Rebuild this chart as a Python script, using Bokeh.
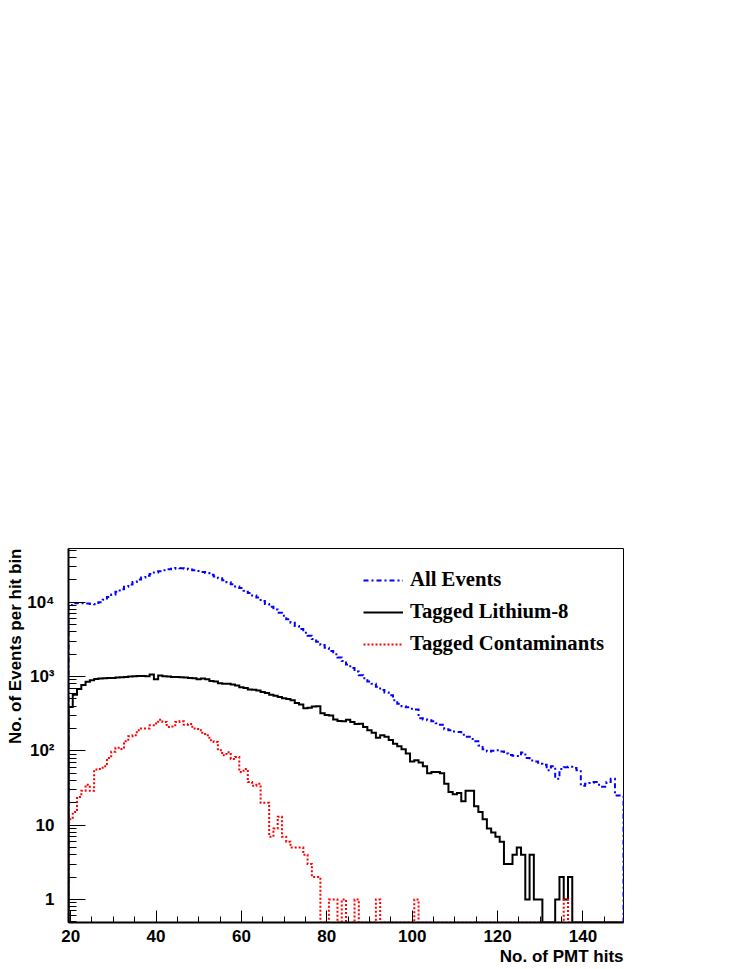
import numpy as np
from bokeh.plotting import figure
from bokeh.models import Range1d, FixedTicker, Legend, LegendItem, Title
from bokeh.embed import file_html
from bokeh.resources import INLINE

# ---------------- data (bin centres 20 .. 149, one hit per bin) ----------------
hits = list(range(20, 150))

all_events = [
    9200, 9700, 9800, 9700, 9600, 9500, 9400, 10000, 10800, 11800,
    12700, 13800, 15000, 16200, 17400, 18800, 20200, 21500, 22800, 24000,
    25200, 26200, 27000, 27800, 28300, 28800, 28700, 28300, 27600, 27000,
    26300, 25600, 24700, 23500, 22300, 21000, 19800, 18600, 17500, 16300,
    15500, 14300, 13300, 12300, 11600, 10400, 9500, 8700, 8000, 7200,
    6600, 5900, 5300, 4800, 4350, 3900, 3550, 3200, 2950, 2650,
    2450, 2200, 2000, 1800, 1620, 1450, 1300, 1170, 1040, 950,
    860, 800, 730, 660, 610, 560, 480, 430, 400, 385,
    370, 360, 275, 265, 258, 250, 235, 225, 195, 190,
    182, 180, 165, 155, 145, 135, 118, 105, 98, 100,
    102, 98, 92, 88, 86, 85, 95, 80, 74, 72,
    67, 65, 55, 62, 42, 57, 60, 61, 59, 55,
    34, 36, 37, 38, 35, 33, 38, 42, 25, 25,
]

lithium8 = [
    390, 570, 680, 770, 850, 890, 930, 940, 950, 960,
    960, 970, 980, 990, 1000, 1010, 1020, 1020, 1010, 1070,
    920, 1030, 1010, 1000, 990, 990, 980, 970, 960, 950,
    920, 940, 920, 870, 860, 810, 800, 800, 780, 760,
    720, 700, 670, 665, 650, 620, 600, 570, 550, 530,
    510, 500, 480, 440, 420, 375, 380, 395, 400, 320,
    305, 300, 265, 252, 250, 262, 245, 230, 232, 210,
    190, 175, 150, 162, 155, 140, 125, 115, 105, 92,
    72, 75, 70, 62, 50, 52, 52, 50, 36, 28,
    26, 27, 21, 29, 29, 18, 15, 12, 9, 8,
    7, 6, 3, 3, 4, 5, 4, 1, 4, 1,
    1, 0, 0, 0, 1, 2, 1, 2, 0, 0,
    0, 0, 0, 0, 0, 0, 0, 0, 0, 0,
]

contaminants = [
    12, 15, 24, 29, 35, 29, 56, 57, 62, 80,
    97, 110, 106, 135, 157, 162, 189, 200, 200, 221,
    233, 263, 245, 210, 213, 245, 250, 225, 230, 200,
    197, 175, 162, 139, 132, 102, 87, 96, 78, 83,
    52, 57, 38, 34, 36, 20, 20, 7, 9, 13,
    7, 6, 5, 5, 5, 4, 3, 2, 2, 0,
    0, 1, 1, 0, 1, 0, 0, 1, 0, 0,
    0, 0, 1, 0, 0, 0, 0, 0, 0, 0,
    0, 1, 0, 0, 0, 0, 0, 0, 0, 0,
    0, 0, 0, 0, 0, 0, 0, 0, 0, 0,
    0, 0, 0, 0, 0, 0, 0, 0, 0, 0,
    0, 0, 0, 0, 0, 0, 1, 0, 0, 0,
    0, 0, 0, 0, 0, 0, 0, 0, 0, 0,
]

series_names = ["All Events", "Tagged Lithium-8", "Tagged Contaminants"]

x_tick_values = [20, 40, 60, 80, 100, 120, 140]
y_tick_values = [1, 10, 100, 1000, 10000]
y_tick_labels = ["1", "10", "10\u00b2", "10\u00b3", "10\u2074"]

x_title = "No. of PMT hits"
y_title = "No. of Events per hit bin"

X_MIN, X_MAX = 19.5, 149.5
Y_MIN, Y_MAX = 0.49, 52900

# ---------------- figure ----------------
p = figure(width=749, height=969,
           x_range=Range1d(X_MIN, X_MAX), y_range=Range1d(Y_MIN, Y_MAX),
           y_axis_type="log", output_backend="svg", toolbar_location=None,
           min_border_left=68, min_border_right=126,
           min_border_top=548, min_border_bottom=47)
p.background_fill_color = "white"
p.border_fill_color = "white"
p.xgrid.visible = False
p.ygrid.visible = False
p.outline_line_color = "black"
p.outline_line_width = 1


def step_xy(values):
    v = np.maximum(np.asarray(values, dtype=float), Y_MIN)
    edges = np.arange(len(v) + 1) - 0.5 + hits[0]
    xs = np.repeat(edges, 2)
    ys = np.concatenate([[Y_MIN], np.repeat(v, 2), [Y_MIN]])
    return xs, ys


xa, ya = step_xy(all_events)
r_all = p.line(xa, ya, line_color="#0000ff", line_width=2,
               line_dash="5 3 2 3", line_join="miter")
xb, yb = step_xy(lithium8)
r_li = p.line(xb, yb, line_color="black", line_width=2, line_join="miter")
xc, yc = step_xy(contaminants)
r_co = p.line(xc, yc, line_color="#ff0000", line_width=2,
              line_dash="2 2", line_join="miter")

legend = Legend(items=[LegendItem(label=series_names[0], renderers=[r_all]),
                       LegendItem(label=series_names[1], renderers=[r_li]),
                       LegendItem(label=series_names[2], renderers=[r_co])],
                location=(295, 267), orientation="vertical",
                border_line_color=None, background_fill_alpha=0,
                padding=0, margin=0, spacing=9,
                glyph_width=40, glyph_height=20, label_height=20,
                label_standoff=7,
                label_text_font="Liberation Serif", label_text_font_style="bold",
                label_text_font_size="20.7px", label_text_color="black")
p.add_layout(legend)

# ---------------- axes ----------------
minor_y = [k * 10.0 ** n for n in range(-1, 5) for k in range(2, 10)
           if Y_MIN <= k * 10.0 ** n <= Y_MAX]
p.yaxis.ticker = FixedTicker(ticks=y_tick_values, minor_ticks=minor_y)
p.yaxis.major_label_overrides = {v: s for v, s in zip(y_tick_values, y_tick_labels)}
p.xaxis.ticker = FixedTicker(ticks=x_tick_values, minor_ticks=list(range(20, 150, 5)))

for ax in (p.xaxis[0], p.yaxis[0]):
    ax.axis_line_width = 2
    ax.axis_line_color = "black"
    ax.major_tick_line_color = "black"
    ax.minor_tick_line_color = "black"
    ax.major_tick_out = 0
    ax.minor_tick_out = 0
    ax.major_label_text_font = "Liberation Sans"
    ax.major_label_text_font_style = "bold"
    ax.major_label_text_font_size = "17px"
    ax.major_label_text_color = "black"

p.yaxis.major_tick_in = 17
p.yaxis.minor_tick_in = 8
p.yaxis.major_label_standoff = 14
p.xaxis.major_tick_in = 12
p.xaxis.minor_tick_in = 6
p.xaxis.major_label_standoff = 7

# axis titles, aligned to the far end of each axis (ROOT style)
p.add_layout(Title(text=x_title, align="right", standoff=0, offset=0,
                   text_font="Liberation Sans", text_font_style="bold",
                   text_font_size="17px", text_color="black"), "below")
p.add_layout(Title(text=y_title, align="right", standoff=0, offset=0,
                   text_font="Liberation Sans", text_font_style="bold",
                   text_font_size="17px", text_color="black"), "left")

open("out.html", "w").write(file_html(p, INLINE))
